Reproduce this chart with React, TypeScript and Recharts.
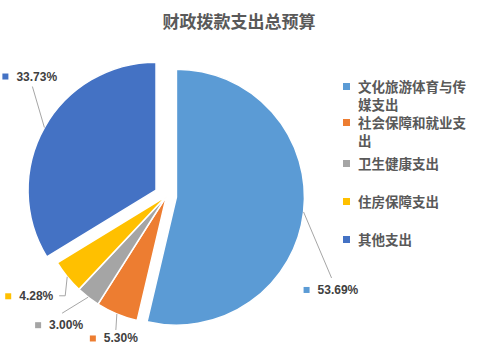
import { Cell, Pie, PieChart, PieLabelRenderProps } from "recharts";

const RADIAN = Math.PI / 180;

const CATEGORIES = [
  "文化旅游体育与传媒支出",
  "社会保障和就业支出",
  "卫生健康支出",
  "住房保障支出",
  "其他支出",
];
const SHARES = [53.69, 5.3, 3.0, 4.28, 33.73];
const COLORS = ["#5B9BD5", "#ED7D31", "#A5A5A5", "#FFC000", "#4472C4"];

const data = CATEGORIES.map((name, i) => ({ name, value: SHARES[i] }));

// layout only: slice explosion (px) and where each label sits relative to the slice edge
const EXPLODE = [10, 0, 0, 0, 12];
const LABEL_LAYOUT = [
  { line: [[28, 66]], box: [0, 78] },
  { line: [[-1, 16]], box: [-27, 24.5] },
  { line: [[-26, 16]], box: [-53, 28] },
  { line: [[-2, 19], [-8, 19]], box: [-62, 19.5] },
  { line: [[-12, -41]], box: [-42, -51] },
];
const LEGEND_TOPS = [78, 114, 155, 193, 231];

const CX = 166.5;
const CY = 196;
const RADIUS = 128;

const total = SHARES.reduce((a, b) => a + b, 0);

function offsetFor(i: number) {
  const before = SHARES.slice(0, i).reduce((a, b) => a + b, 0);
  const theta = ((before + SHARES[i] / 2) / total) * 360 * RADIAN;
  return { dx: EXPLODE[i] * Math.sin(theta), dy: -EXPLODE[i] * Math.cos(theta) };
}

const makeLabel = (target: number) => (props: PieLabelRenderProps) => {
  const { cx, cy, midAngle, outerRadius, index, percent } = props;
  if (index !== target) return null;
  const r = Number(outerRadius);
  const ex = Number(cx) + r * Math.cos(-(midAngle ?? 0) * RADIAN);
  const ey = Number(cy) + r * Math.sin(-(midAngle ?? 0) * RADIAN);
  const lay = LABEL_LAYOUT[target];
  const pts = [[ex, ey], ...lay.line.map(([x, y]) => [ex + x, ey + y])];
  const bx = ex + lay.box[0];
  const by = ey + lay.box[1];
  return (
    <g>
      <path
        d={pts.map((p, k) => `${k ? "L" : "M"}${p[0]},${p[1]}`).join(" ")}
        stroke="#A6A6A6"
        strokeWidth={1}
        fill="none"
      />
      <rect x={bx} y={by - 3} width={6} height={6} fill={COLORS[target]} />
      <text
        x={bx + 14}
        y={by}
        fill="#404040"
        fontSize={12}
        fontWeight="bold"
        fontFamily="'Liberation Sans', Arial, sans-serif"
        dominantBaseline="central"
      >
        {`${((percent ?? 0) * 100).toFixed(2)}%`}
      </text>
    </g>
  );
};

export default function App() {
  return (
    <div style={{ position: "relative", width: 478, height: 359, background: "#fff" }}>
      <style>{`body{margin:0}`}</style>
      <div
        style={{
          position: "absolute",
          top: 9,
          left: 0,
          width: 478,
          textAlign: "center",
          fontSize: 17,
          fontWeight: "bold",
          color: "#595959",
          fontFamily: "'Noto Sans CJK SC', sans-serif",
          lineHeight: "24px",
        }}
      >
        财政拨款支出总预算
      </div>
      <PieChart width={478} height={359} margin={{ top: 0, right: 0, bottom: 0, left: 0 }}>
        {CATEGORIES.map((_, j) => {
          const { dx, dy } = offsetFor(j);
          return (
            <Pie
              key={j}
              data={data}
              dataKey="value"
              cx={CX + dx}
              cy={CY + dy}
              outerRadius={RADIUS}
              startAngle={90}
              endAngle={-270}
              isAnimationActive={false}
              labelLine={false}
              label={makeLabel(j)}
            >
              {data.map((entry, i) => (
                <Cell
                  key={entry.name}
                  fill={i === j ? COLORS[i] : "none"}
                  stroke={i === j ? "#fff" : "none"}
                  strokeWidth={1.5}
                />
              ))}
            </Pie>
          );
        })}
      </PieChart>
      {CATEGORIES.map((name, i) => (
        <div
          key={name}
          style={{
            position: "absolute",
            left: 343,
            top: LEGEND_TOPS[i],
            display: "flex",
            alignItems: "flex-start",
            fontFamily: "'Noto Sans CJK SC', sans-serif",
            fontSize: 13.5,
            fontWeight: "bold",
            color: "#595959",
            lineHeight: "17.5px",
          }}
        >
          <span
            style={{
              width: 7,
              height: 7,
              marginTop: 5,
              marginRight: 8,
              flex: "none",
              background: COLORS[i],
            }}
          />
          <span style={{ width: 114 }}>{name}</span>
        </div>
      ))}
    </div>
  );
}
